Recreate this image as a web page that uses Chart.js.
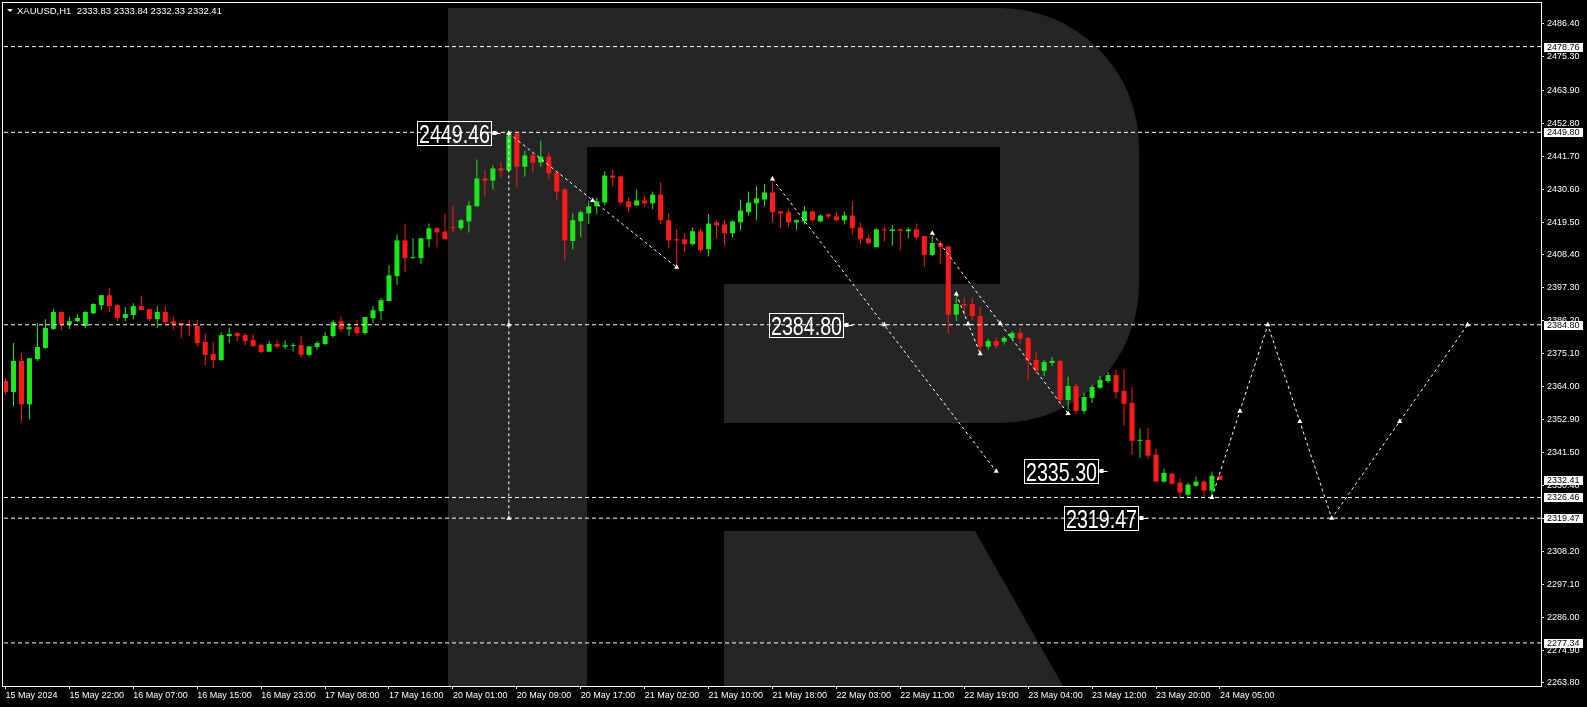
<!DOCTYPE html>
<html>
<head>
<meta charset="utf-8">
<title>XAUUSD,H1</title>
<script src="https://cdn.jsdelivr.net/npm/chart.js@4.4.1/dist/chart.umd.min.js"></script>
<style>
  html, body { margin: 0; padding: 0; background: #000; }
  #wrap { position: relative; width: 1587px; height: 707px; }
</style>
</head>
<body>
<div id="wrap"><canvas id="chart"></canvas></div>
<script>
// hourly candles, 15 May 14:00 .. 24 May 05:00
var opens = [2365.8, 2362.1, 2372.6, 2357.9, 2373.2, 2377.0, 2383.4, 2389.1, 2385.0, 2386.0,
             2384.4, 2388.7, 2391.4, 2394.8, 2391.4, 2387.1, 2388.1, 2391.1, 2390.1, 2386.7,
             2389.1, 2386.0, 2385.4, 2384.7, 2384.4, 2379.0, 2374.9, 2372.9, 2381.0, 2382.0,
             2381.3, 2379.7, 2378.0, 2375.7, 2378.3, 2377.4, 2377.6, 2377.9, 2374.6, 2377.3,
             2378.3, 2381.0, 2386.0, 2383.3, 2384.0, 2382.0, 2387.0, 2389.4, 2392.8, 2401.2,
             2413.3, 2407.3, 2407.3, 2413.7, 2417.4, 2416.3, 2417.7, 2417.4, 2419.7, 2424.8,
             2434.2, 2433.5, 2437.6, 2436.9, 2449.4, 2438.2, 2442.0, 2439.6, 2441.6, 2436.2,
             2430.5, 2413.1, 2419.8, 2422.4, 2424.8, 2426.1, 2435.2, 2434.9, 2426.5, 2425.1,
             2426.8, 2425.8, 2428.8, 2420.1, 2413.7, 2413.7, 2412.0, 2416.4, 2410.3, 2419.4,
             2418.7, 2415.7, 2419.4, 2422.8, 2425.8, 2427.1, 2429.5, 2423.1, 2422.8, 2419.4,
             2419.7, 2423.1, 2419.7, 2422.1, 2421.4, 2420.1, 2421.7, 2417.7, 2414.0, 2411.0,
             2417.0, 2416.5, 2417.0, 2416.4, 2417.0, 2414.8, 2408.4, 2412.3, 2411.3, 2388.2,
             2391.8, 2391.8, 2387.7, 2377.4, 2379.3, 2379.1, 2380.3, 2382.0, 2380.3, 2372.9,
             2369.2, 2371.9, 2372.6, 2359.4, 2364.1, 2355.7, 2360.1, 2363.5, 2365.8, 2367.8,
             2362.5, 2358.4, 2345.6, 2345.9, 2340.9, 2331.8, 2334.5, 2331.5, 2327.4, 2330.4,
             2331.8, 2328.8, 2333.83];
var highs = [2366.7, 2378.6, 2375.3, 2373.6, 2385.4, 2386.7, 2390.1, 2389.4, 2387.4, 2388.4,
             2389.4, 2392.1, 2394.8, 2397.2, 2391.8, 2390.8, 2392.1, 2394.5, 2390.1, 2391.1,
             2391.1, 2387.7, 2385.4, 2386.4, 2386.4, 2382.0, 2379.0, 2382.3, 2383.7, 2382.3,
             2382.0, 2381.7, 2378.3, 2379.3, 2379.5, 2379.5, 2378.6, 2381.0, 2377.5, 2379.3,
             2382.3, 2386.4, 2387.7, 2385.4, 2386.4, 2387.4, 2391.1, 2393.8, 2404.9, 2415.3,
             2419.0, 2414.0, 2414.0, 2419.0, 2417.7, 2422.4, 2425.1, 2420.4, 2426.5, 2440.6,
             2436.9, 2438.6, 2439.6, 2449.46, 2449.4, 2443.6, 2443.3, 2447.0, 2443.0, 2436.2,
             2430.8, 2422.4, 2423.4, 2426.8, 2427.8, 2436.6, 2437.2, 2435.2, 2427.8, 2430.5,
             2428.5, 2429.8, 2432.9, 2422.4, 2417.0, 2415.7, 2417.7, 2417.4, 2422.1, 2420.1,
             2420.1, 2420.1, 2427.1, 2429.8, 2431.5, 2432.2, 2432.9, 2423.4, 2423.8, 2420.4,
             2424.8, 2423.4, 2422.1, 2422.4, 2423.1, 2423.1, 2426.5, 2419.4, 2415.3, 2417.4,
             2418.0, 2418.4, 2417.4, 2417.7, 2419.0, 2414.8, 2414.8, 2413.0, 2411.3, 2394.1,
             2394.1, 2393.8, 2390.8, 2380.1, 2380.6, 2381.0, 2382.7, 2383.7, 2380.6, 2375.6,
             2372.9, 2373.9, 2372.9, 2367.2, 2364.8, 2361.8, 2364.5, 2367.5, 2368.9, 2369.5,
             2369.9, 2363.8, 2349.7, 2350.0, 2342.9, 2336.2, 2334.8, 2332.8, 2331.5, 2333.5,
             2332.5, 2335.2, 2333.84];
var lows = [2361.3, 2357.4, 2352.0, 2352.8, 2372.6, 2376.6, 2383.0, 2383.0, 2383.4, 2385.7,
            2383.7, 2388.4, 2389.8, 2389.1, 2386.0, 2386.0, 2386.7, 2389.8, 2386.0, 2383.7,
            2385.0, 2383.0, 2380.3, 2381.0, 2377.3, 2371.2, 2370.2, 2372.6, 2378.6, 2379.3,
            2378.0, 2377.3, 2375.3, 2375.6, 2376.8, 2376.5, 2375.7, 2373.7, 2374.2, 2376.4,
            2377.9, 2380.3, 2382.3, 2381.0, 2381.0, 2381.3, 2385.4, 2386.4, 2392.8, 2398.2,
            2402.5, 2407.3, 2405.2, 2411.0, 2411.0, 2413.7, 2416.0, 2416.7, 2416.0, 2424.8,
            2428.1, 2430.5, 2434.5, 2436.9, 2431.2, 2434.9, 2436.2, 2438.2, 2433.9, 2427.1,
            2406.6, 2410.1, 2414.4, 2418.8, 2422.1, 2425.1, 2431.5, 2425.5, 2422.8, 2425.1,
            2424.8, 2423.8, 2418.7, 2410.6, 2404.6, 2409.3, 2411.6, 2409.3, 2407.9, 2414.0,
            2411.6, 2414.3, 2416.7, 2421.7, 2420.1, 2424.8, 2419.4, 2417.4, 2418.0, 2417.0,
            2418.7, 2419.7, 2419.4, 2420.7, 2419.7, 2418.7, 2415.3, 2412.0, 2412.0, 2411.0,
            2413.0, 2411.6, 2410.0, 2414.0, 2413.3, 2404.3, 2408.0, 2405.4, 2381.8, 2386.1,
            2388.1, 2386.5, 2375.7, 2376.4, 2376.7, 2378.1, 2379.7, 2378.4, 2366.3, 2368.3,
            2367.5, 2370.9, 2358.1, 2356.1, 2354.7, 2354.7, 2358.4, 2363.1, 2365.1, 2360.1,
            2350.7, 2340.9, 2339.9, 2339.5, 2331.8, 2331.5, 2330.8, 2326.4, 2326.7, 2330.1,
            2326.7, 2326.46, 2332.33];
var closes = [2362.1, 2372.6, 2357.9, 2373.5, 2377.3, 2383.7, 2389.1, 2385.0, 2386.0, 2387.1,
              2389.1, 2391.8, 2394.8, 2391.1, 2387.1, 2388.4, 2391.1, 2389.8, 2386.7, 2389.1,
              2385.7, 2385.0, 2384.7, 2384.4, 2378.6, 2374.6, 2372.9, 2381.3, 2381.7, 2381.0,
              2379.3, 2377.6, 2375.6, 2378.3, 2377.4, 2377.9, 2377.9, 2374.7, 2377.5, 2378.6,
              2381.0, 2385.7, 2383.3, 2384.0, 2382.0, 2387.4, 2389.7, 2393.1, 2401.5, 2413.3,
              2407.3, 2407.6, 2414.0, 2417.4, 2416.0, 2413.7, 2417.4, 2420.1, 2425.1, 2434.2,
              2433.5, 2437.6, 2436.9, 2448.7, 2438.2, 2442.0, 2439.6, 2441.6, 2435.9, 2429.8,
              2413.3, 2420.1, 2422.8, 2424.8, 2426.5, 2435.2, 2434.5, 2426.1, 2424.4, 2426.8,
              2425.8, 2428.8, 2420.1, 2413.3, 2413.3, 2412.0, 2416.4, 2410.0, 2419.0, 2418.4,
              2415.7, 2419.7, 2423.4, 2426.1, 2427.5, 2429.5, 2422.8, 2422.4, 2419.4, 2420.1,
              2423.1, 2420.1, 2421.7, 2421.4, 2420.1, 2421.7, 2417.4, 2413.7, 2412.3, 2417.0,
              2416.7, 2417.0, 2416.5, 2417.0, 2414.3, 2408.4, 2412.4, 2411.1, 2388.2, 2391.8,
              2391.4, 2387.8, 2377.4, 2379.3, 2377.7, 2380.4, 2382.0, 2380.1, 2372.7, 2369.3,
              2372.2, 2372.6, 2359.4, 2364.1, 2355.7, 2360.4, 2363.8, 2366.2, 2367.8, 2362.1,
              2358.1, 2345.6, 2345.9, 2340.6, 2331.8, 2334.8, 2331.1, 2328.1, 2330.8, 2331.8,
              2328.8, 2333.8, 2332.41];

// time axis: a label every 8 bars
var timeTicks = [0, 8, 16, 24, 32, 40, 48, 56, 64, 72, 80, 88, 96, 104, 112, 120, 128, 136, 144, 152];
var timeLabels = ["15 May 2024", "15 May 22:00", "16 May 07:00", "16 May 15:00", "16 May 23:00",
                  "17 May 08:00", "17 May 16:00", "20 May 01:00", "20 May 09:00", "20 May 17:00",
                  "21 May 02:00", "21 May 10:00", "21 May 18:00", "22 May 03:00", "22 May 11:00",
                  "22 May 19:00", "23 May 04:00", "23 May 12:00", "23 May 20:00", "24 May 05:00"];
var priceTicks = [2263.80, 2274.90, 2286.00, 2297.10, 2308.20, 2319.30, 2330.40, 2341.50, 2352.90,
                  2364.00, 2375.10, 2386.20, 2397.30, 2408.40, 2419.50, 2430.60, 2441.70, 2452.80,
                  2463.90, 2475.30, 2486.40];

// horizontal levels and the price boxes on the axis
var levels = [2478.76, 2449.80, 2384.80, 2326.46, 2319.47, 2277.34];
var axisMarks = [2478.76, 2449.80, 2384.80, 2332.41, 2326.46, 2319.47, 2277.34];

// trend lines [bar, price]
var trendLines = [
    [[63, 2449.46], [63, 2319.47]],
    [[63, 2449.46], [84, 2404.2]],
    [[96, 2434.0], [124, 2335.3]],
    [[116, 2415.7], [133, 2354.8]],
    [[119, 2395.2], [122, 2375.0]]
];
var forecastBars = [151, 158, 166, 183];
var forecastPrices = [2326.46, 2384.80, 2319.47, 2384.80];
var arrowBars = [63, 63, 63, 73.5, 84, 96, 110, 124, 116, 124.5, 133, 119, 120.5, 122,
                 151, 154.5, 158, 162, 166, 174.5, 183];
var arrowPrices = [2449.46, 2384.80, 2319.47, 2426.8, 2404.2, 2434.0, 2384.8, 2335.3, 2415.7, 2385.2, 2354.8,
                   2395.2, 2385.1, 2375.0, 2326.46, 2355.6, 2384.8, 2352.1, 2319.47, 2352.1, 2384.8];

// price tags drawn on the chart
var tagPrices = [2449.46, 2384.80, 2335.30, 2319.47];
var tagBars = [61.85, 106, 137.9, 142.9];

var bullColor = "#1ee61e",
    bearColor = "#ff1a1a",
    xMin = -0.1875,
    xMax = 192.1875;

function buildDatasets() {
    var bars = opens.map(function (o, i) { return i; }),
        colors = bars.map(function (k) { return closes[k] >= opens[k] ? bullColor : bearColor; }),
        sets = [];

    sets.push({
        type: "bar",
        data: bars.map(function (k) { return { x: k, y: [lows[k], highs[k]] }; }),
        backgroundColor: colors,
        barThickness: 1,
        grouped: false,
        inflateAmount: 0,
        borderWidth: 0,
        order: 3
    });
    sets.push({
        type: "bar",
        data: bars.map(function (k) { return { x: k, y: [opens[k], closes[k]] }; }),
        backgroundColor: colors,
        barThickness: 5,
        grouped: false,
        minBarLength: 1,
        inflateAmount: 0,
        borderWidth: 0,
        order: 2
    });

    levels.forEach(function (p) {
        sets.push({
            type: "line",
            data: [{ x: xMin, y: p }, { x: xMax, y: p }],
            borderColor: "#ffffff",
            borderWidth: 1,
            borderDash: [4, 3],
            pointRadius: 0,
            order: 1
        });
    });

    trendLines.forEach(function (ln) {
        sets.push({
            type: "line",
            data: ln.map(function (pt) { return { x: pt[0], y: pt[1] }; }),
            borderColor: "#ffffff",
            borderWidth: 1,
            borderDash: [3, 3],
            pointRadius: 0,
            order: 1
        });
    });

    sets.push({
        type: "line",
        data: forecastBars.map(function (k, i) { return { x: k, y: forecastPrices[i] }; }),
        borderColor: "#ffffff",
        borderWidth: 1,
        borderDash: [3, 3],
        pointRadius: 0,
        order: 1
    });

    sets.push({
        type: "line",
        data: arrowBars.map(function (k, i) { return { x: k, y: arrowPrices[i] }; }),
        showLine: false,
        pointStyle: "triangle",
        pointRadius: 3,
        pointBorderWidth: 0,
        pointBackgroundColor: "#ffffff",
        order: 0
    });
    return sets;
}

var backdrop = {
    id: "backdrop",
    beforeDraw: function (chart) {
        var ctx = chart.ctx, a = chart.chartArea;
        ctx.save();
        ctx.fillStyle = "#000";
        ctx.fillRect(0, 0, chart.width, chart.height);
        ctx.beginPath();
        ctx.rect(a.left, a.top, a.right - a.left, a.bottom - a.top);
        ctx.clip();
        // watermark "R"
        ctx.fillStyle = "#252525";
        ctx.beginPath();
        ctx.moveTo(448, 8);
        ctx.lineTo(1000, 8);
        ctx.arc(1000, 147, 139, -Math.PI / 2, 0);
        ctx.lineTo(1139, 284);
        ctx.arc(1000, 284, 139, 0, Math.PI / 2);
        ctx.lineTo(724, 423);
        ctx.lineTo(724, 284);
        ctx.lineTo(1000, 284);
        ctx.lineTo(1000, 147);
        ctx.lineTo(587, 147);
        ctx.lineTo(587, 700);
        ctx.lineTo(448, 700);
        ctx.closePath();
        ctx.fill();
        ctx.beginPath();
        ctx.moveTo(724, 531);
        ctx.lineTo(975, 531);
        ctx.lineTo(1071, 700);
        ctx.lineTo(724, 700);
        ctx.closePath();
        ctx.fill();
        ctx.restore();
    },
    afterDatasetsDraw: function (chart) {
        var ctx = chart.ctx,
            xs = chart.scales.x,
            ys = chart.scales.y;
        ctx.save();
        // price tags
        tagPrices.forEach(function (p, i) {
            var ax = Math.round(xs.getPixelForValue(tagBars[i])) + 0.5,
                ay = Math.round(ys.getPixelForValue(p)) + 0.5,
                right = ax - 9,
                left = right - 74,
                top = ay - 12,
                txt = p.toFixed(2),
                w;
            ctx.strokeStyle = "#fff";
            ctx.fillStyle = "#fff";
            ctx.lineWidth = 1;
            ctx.strokeRect(left, top, 74, 24);
            ctx.fillRect(right + 1, ay - 2.5, 4, 4);
            ctx.beginPath();
            ctx.moveTo(right, ay);
            ctx.lineTo(ax, ay);
            ctx.stroke();
            ctx.font = "25px 'Liberation Sans'";
            w = ctx.measureText(txt).width;
            ctx.save();
            ctx.translate(left + 1.5, top + 21);
            ctx.scale(71 / w, 1);
            ctx.textBaseline = "alphabetic";
            ctx.fillText(txt, 0, 0);
            ctx.restore();
        });
        // frame
        ctx.strokeStyle = "#fff";
        ctx.lineWidth = 1;
        ctx.strokeRect(2.5, 2.5, 1539, 684);
        // header
        ctx.beginPath();
        ctx.moveTo(7, 9);
        ctx.lineTo(13, 9);
        ctx.lineTo(10, 12);
        ctx.closePath();
        ctx.fill();
        ctx.font = "9.5px 'Liberation Sans'";
        ctx.textBaseline = "middle";
        var last = opens.length - 1;
        ctx.fillText("XAUUSD,H1  " + opens[last].toFixed(2) + " " + highs[last].toFixed(2) + " " +
                     lows[last].toFixed(2) + " " + closes[last].toFixed(2), 17, 11);
        ctx.restore();
    },
    afterDraw: function (chart) {
        var ctx = chart.ctx, ys = chart.scales.y;
        ctx.save();
        ctx.font = "9px 'Liberation Sans'";
        ctx.textBaseline = "middle";
        axisMarks.forEach(function (p) {
            var y = Math.round(ys.getPixelForValue(p));
            ctx.fillStyle = "#fff";
            ctx.fillRect(1544, y - 4, 39, 9);
            ctx.fillStyle = "#000";
            ctx.fillText(p.toFixed(2), 1547, y + 0.5);
        });
        ctx.restore();
    }
};

function noPadding(scale) {
    scale.paddingTop = 0;
    scale.paddingBottom = 0;
    scale.paddingLeft = 0;
    scale.paddingRight = 0;
}

function drawChart() {
    Chart.defaults.font.family = "'Liberation Sans', Arial, sans-serif";
    Chart.defaults.font.size = 9;
    Chart.defaults.color = "#ffffff";

    var ctx = document.getElementById("chart"),
        chart = new Chart(ctx, {
            type: "bar",
            data: { datasets: buildDatasets() },
            options: {
                responsive: true,
                maintainAspectRatio: false,
                animation: false,
                events: [],
                layout: { padding: { left: 2, top: 2, right: 0, bottom: 0 } },
                plugins: { legend: { display: false }, tooltip: { enabled: false } },
                scales: {
                    x: {
                        type: "linear",
                        min: xMin,
                        max: xMax,
                        offset: false,
                        grid: { display: true, drawOnChartArea: false, drawTicks: true, tickLength: 3, color: "#ffffff", offset: false },
                        border: { display: false },
                        afterBuildTicks: function (scale) {
                            scale.ticks = timeTicks.map(function (v) { return { value: v }; });
                        },
                        afterFit: function (scale) { scale.height = 21; noPadding(scale); },
                        ticks: {
                            autoSkip: false,
                            maxRotation: 0,
                            align: "start",
                            padding: 1,
                            color: "#ffffff",
                            callback: function (value) {
                                var i = timeTicks.indexOf(value);
                                return i >= 0 ? timeLabels[i] : "";
                            }
                        }
                    },
                    y: {
                        type: "linear",
                        position: "right",
                        min: 2262.78,
                        max: 2493.15,
                        grid: { display: true, drawOnChartArea: false, drawTicks: true, tickLength: 3, color: "#ffffff" },
                        border: { display: false },
                        afterBuildTicks: function (scale) {
                            scale.ticks = priceTicks.map(function (v) { return { value: v }; });
                        },
                        afterFit: function (scale) { scale.width = 46; noPadding(scale); },
                        ticks: {
                            autoSkip: false,
                            padding: 3,
                            color: "#ffffff",
                            callback: function (value) { return value.toFixed(2); }
                        }
                    }
                }
            },
            plugins: [backdrop]
        });
}

window.onload = function () {
    drawChart();
};
</script>
</body>
</html>
